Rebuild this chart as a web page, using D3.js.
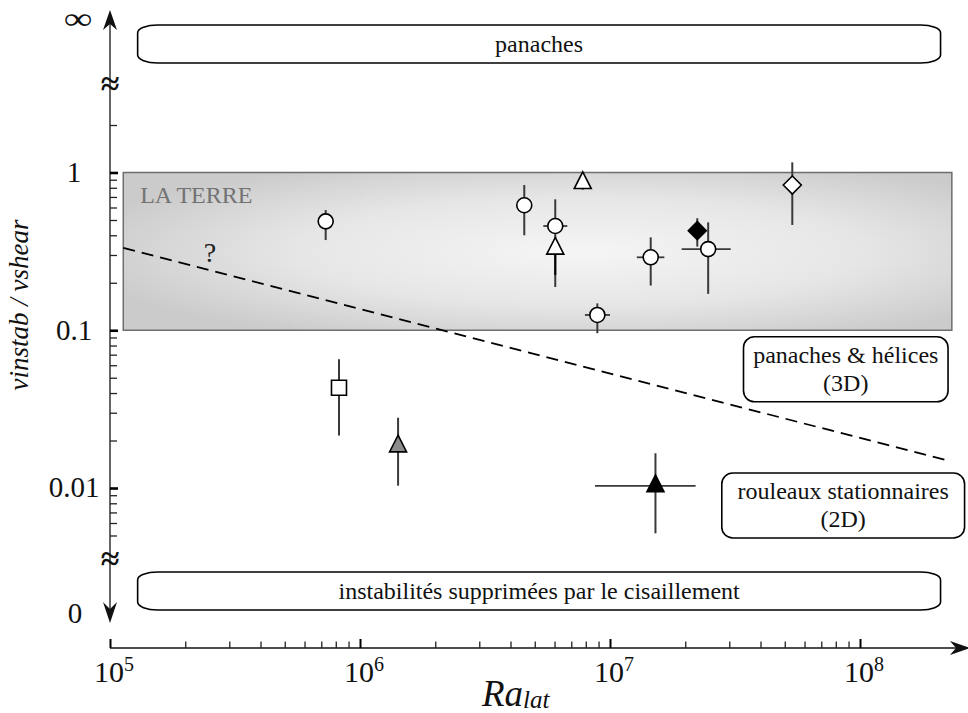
<!DOCTYPE html>
<html><head><meta charset="utf-8">
<script src="https://cdn.jsdelivr.net/npm/d3@7"></script>
<style>
body{margin:0;background:#fff}
svg{display:block}
svg text{font-family:"Liberation Serif","Times New Roman",serif}
</style>
</head><body>
<svg id="c" width="968" height="713" font-family="Liberation Serif, Times New Roman, serif"></svg>
<script>
// ---------------- data ----------------
const raMajorTicks = [1e5, 1e6, 1e7, 1e8];
const raMajorExp   = ["5", "6", "7", "8"];
const raMinorTicks = [2e5,3e5,4e5,5e5,6e5,7e5,8e5,9e5, 2e6,3e6,4e6,5e6,6e6,7e6,8e6,9e6, 2e7,3e7,4e7,5e7,6e7,7e7,8e7,9e7];
const vMajorTicks  = [1, 0.1, 0.01];
const vMajorLabels = ["1", "0.1", "0.01"];
const vMinorTicks  = [2, 0.9,0.8,0.7,0.6,0.5,0.4,0.3,0.2, 0.09,0.08,0.07,0.06,0.05,0.04,0.03,0.02, 0.009,0.008,0.007,0.006,0.005];
const breakLabels  = ["∞", "0"];

// experiments
const ptType  = ["circle","circle","circle","triOpen","triOpen","circle","circle","diaBlack","circle","diaOpen","square","triGray","triBlack"];
const ptRa    = [7.29e5, 4.54e6, 6.04e6, 6.04e6, 7.78e6, 8.9e6, 1.455e7, 2.234e7, 2.47e7, 5.36e7, 8.24e5, 1.42e6, 1.52e7];
const ptV     = [0.49,   0.62,   0.458,  0.33,   0.86,   0.125, 0.29,    0.428,   0.327,  0.833,  0.0432, 0.0184, 0.0103];
const errVLo  = [0.373,  0.40,   0.188,  0.224,  0.78,   0.0957,0.192,   0.339,   0.170,  0.465,  0.0215, 0.01035,0.00516];
const errVHi  = [0.578,  0.833,  0.676,  0.33,   0.86,   0.148, 0.388,   0.513,   0.483,  1.16,   0.0655, 0.0279, 0.0166];
const errRaLo = [null,   null,   5.41e6, null,   null,   7.94e6,1.28e7,  null,    1.935e7,null,   null,   null,   8.71e6];
const errRaHi = [null,   null,   6.75e6, null,   null,   1.0e7, 1.65e7,  null,    3.04e7, null,   null,   null,   2.2e7];

// regime boundary (dashed) and Earth band
const boundaryRa = [1.13e5, 2.25e8];
const boundaryV  = [0.333, 0.0149];
const earthRa = [1.13e5, 2.33e8];
const earthV  = [1, 0.1];
const earthLabel = "LA TERRE";
const earthLabelAt = [1.32e5, 0.64];
const questionAt = [2.51e5, 0.271];

// regime boxes
const boxLines = [["panaches"], ["instabilités supprimées par le cisaillement"], ["panaches & hélices","(3D)"], ["rouleaux stationnaires","(2D)"]];
const boxRa    = [[1.29e5, 2.1e8], [1.29e5, 2.1e8], [3.42e7, 2.25e8], [2.8e7, 2.62e8]];
const boxV     = [null, null, [0.091, 0.0352], [0.01245, 0.00482]];

const yTitle = "vinstab / vshear";
const xTitleMain = "Ra", xTitleSub = "lat";

// ---------------- layout ----------------
const FONT = "Liberation Serif, Times New Roman, serif";
const svg = d3.select("#c");
const x = d3.scaleLog().domain([1e5, 1e8]).range([110, 860]);
const y = d3.scaleLog().domain([1, 0.01]).range([172.5, 488]);
const xAxisY = 648;
const axisX = x(1e5);
const yInfBase = 29, yZeroRow = 614;
const topBand = [25, 63], botBand = [572, 610];
const approxRows = [82.5, 557.5];

const styles = {
  circle:   {fill:"#fff"},
  triOpen:  {fill:"#fff"},
  triGray:  {fill:"#8c8c8c"},
  triBlack: {fill:"#000"},
  diaBlack: {fill:"#000"},
  diaOpen:  {fill:"#fff"},
  square:   {fill:"#fff"}
};
function shapePath(t){
  if (t === "circle") return d3.symbol(d3.symbolCircle, Math.PI*7.5*7.5)();
  if (t.startsWith("tri")) return "M0,-11L8.5,5.7L-8.5,5.7Z";
  if (t.startsWith("dia")) return "M0,-9L9,0L0,9L-9,0Z";
  if (t === "square") return "M-7.5,-7.5H7.5V7.5H-7.5Z";
}
function txt(sel){ return sel.append("text").attr("font-family", FONT); }

// ---------------- defs ----------------
const defs = svg.append("defs");
const grad = defs.append("radialGradient").attr("id","earthGrad")
  .attr("cx","0.55").attr("cy","0.5").attr("r","0.62");
grad.append("stop").attr("offset","0").attr("stop-color","#f5f5f5");
grad.append("stop").attr("offset","0.55").attr("stop-color","#e6e6e6");
grad.append("stop").attr("offset","1").attr("stop-color","#cbcbcb");

// ---------------- Earth band ----------------
svg.append("rect")
  .attr("x", x(earthRa[0])).attr("y", y(earthV[0]))
  .attr("width", x(earthRa[1]) - x(earthRa[0]))
  .attr("height", y(earthV[1]) - y(earthV[0]))
  .attr("fill","url(#earthGrad)").attr("stroke","#6e6e6e").attr("stroke-width",1.5);
txt(svg).attr("x", x(earthLabelAt[0])).attr("y", y(earthLabelAt[1]))
  .attr("font-size",24).attr("fill","#737373").text(earthLabel);
txt(svg).attr("x", x(questionAt[0])).attr("y", y(questionAt[1]))
  .attr("text-anchor","middle").attr("font-size",28).attr("fill","#222").text("?");

// ---------------- boundary ----------------
svg.append("path")
  .attr("d", d3.line().x(d=>x(d[0])).y(d=>y(d[1]))(d3.zip(boundaryRa, boundaryV)))
  .attr("fill","none").attr("stroke","#000").attr("stroke-width",1.8)
  .attr("stroke-dasharray","12,7");

// ---------------- regime boxes ----------------
boxLines.forEach((lines, i) => {
  const x0 = x(boxRa[i][0]), x1 = x(boxRa[i][1]);
  let y0, y1, rx, ry;
  if (boxV[i] === null) {
    [y0, y1] = i === 0 ? topBand : botBand; rx = 20; ry = 8;
  } else {
    y0 = y(boxV[i][0]); y1 = y(boxV[i][1]); rx = 11; ry = 11;
  }
  svg.append("rect").attr("x", x0).attr("y", y0).attr("width", x1-x0).attr("height", y1-y0)
    .attr("rx", rx).attr("ry", ry).attr("fill","#fff").attr("stroke","#000").attr("stroke-width",1.6);
  const cx = (x0+x1)/2, cy = (y0+y1)/2, lh = 28;
  lines.forEach((s, k) => {
    txt(svg).attr("x", cx).attr("y", cy + (k - (lines.length-1)/2)*lh)
      .attr("dy","0.33em").attr("text-anchor","middle").attr("font-size",24).attr("fill","#111").text(s);
  });
});

// ---------------- axes ----------------
svg.append("line").attr("x1",axisX).attr("x2",axisX).attr("y1",24).attr("y2",612)
  .attr("stroke","#333").attr("stroke-width",1.5);
svg.append("path").attr("d",`M${axisX},10L${axisX+7},30L${axisX},24L${axisX-7},30Z`).attr("fill","#111");
svg.append("path").attr("d",`M${axisX},623L${axisX+7},602L${axisX},609L${axisX-7},602Z`).attr("fill","#111");

const yMinorG = svg.append("g").attr("transform",`translate(${axisX},0)`)
  .call(d3.axisRight(y).tickValues(vMinorTicks).tickSize(7).tickFormat(""));
yMinorG.select(".domain").remove();
yMinorG.selectAll("line").attr("stroke","#222").attr("stroke-width",1.3);
const yMajorG = svg.append("g").attr("transform",`translate(${axisX},0)`)
  .call(d3.axisRight(y).tickValues(vMajorTicks).tickSize(8).tickFormat(""));
yMajorG.select(".domain").remove();
yMajorG.selectAll("line").attr("stroke","#000").attr("stroke-width",2.6);

vMajorTicks.forEach((d,i) => {
  txt(svg).attr("x",74).attr("y",y(d)).attr("dy","0.32em").attr("text-anchor","middle")
    .attr("font-size",29).attr("fill","#111").text(vMajorLabels[i]);
});
txt(svg).attr("transform",`translate(78,${yInfBase}) scale(1.3,1)`).attr("x",0).attr("y",0)
  .attr("text-anchor","middle").attr("font-size",31).attr("fill","#111").text(breakLabels[0]);
txt(svg).attr("x",75).attr("y",yZeroRow).attr("dy","0.32em").attr("text-anchor","middle")
  .attr("font-size",29).attr("fill","#111").text(breakLabels[1]);
approxRows.forEach(r => {
  txt(svg).attr("x",axisX).attr("y",r).attr("dy","0.36em").attr("text-anchor","middle")
    .attr("font-size",34).attr("font-weight","bold").attr("fill","#111").text("≈");
});

// x axis
svg.append("line").attr("x1",axisX).attr("x2",958).attr("y1",xAxisY).attr("y2",xAxisY)
  .attr("stroke","#111").attr("stroke-width",1.6);
svg.append("path").attr("d",`M970,${xAxisY}L950,${xAxisY-7}L956,${xAxisY}L950,${xAxisY+7}Z`).attr("fill","#111");
const xMinorG = svg.append("g").attr("transform",`translate(0,${xAxisY})`)
  .call(d3.axisTop(x).tickValues(raMinorTicks).tickSize(6.5).tickFormat(""));
xMinorG.select(".domain").remove();
xMinorG.selectAll("line").attr("stroke","#222").attr("stroke-width",1.3);
const xMajorG = svg.append("g").attr("transform",`translate(0,${xAxisY})`)
  .call(d3.axisTop(x).tickValues(raMajorTicks).tickSize(9).tickFormat(""));
xMajorG.select(".domain").remove();
xMajorG.selectAll("line").attr("stroke","#000").attr("stroke-width",2);

raMajorTicks.forEach((t, i) => {
  const tx = txt(svg).attr("x", x(t) - 16).attr("y", 682)
    .attr("font-size",30).attr("fill","#111");
  tx.append("tspan").text("10");
  tx.append("tspan").attr("font-size",20).attr("dy",-11).text(raMajorExp[i]);
});

// titles
txt(svg).attr("transform","translate(28,305) rotate(-90)")
  .attr("text-anchor","middle").attr("font-size",27).attr("font-style","italic")
  .attr("fill","#111").text(yTitle);
const xt = txt(svg).attr("x",482).attr("y",706).attr("font-style","italic").attr("fill","#111");
xt.append("tspan").attr("font-size",37).text(xTitleMain);
xt.append("tspan").attr("font-size",25).attr("dy",2).text(xTitleSub);

// ---------------- data points ----------------
const pts = ptRa.map((r,i)=>({t:ptType[i], ra:r, v:ptV[i], vlo:errVLo[i], vhi:errVHi[i], rlo:errRaLo[i], rhi:errRaHi[i]}));
const eg = svg.append("g");
pts.forEach(p => {
  eg.append("line").attr("x1",x(p.ra)).attr("x2",x(p.ra)).attr("y1",y(p.vhi)).attr("y2",y(p.vlo))
    .attr("stroke", p.t==="triOpen" ? "#000" : "#3a3a3a").attr("stroke-width",2);
  if (p.rlo !== null) {
    eg.append("line").attr("x1",x(p.rlo)).attr("x2",x(p.rhi)).attr("y1",y(p.v)).attr("y2",y(p.v))
      .attr("stroke","#3a3a3a").attr("stroke-width",1.8);
  }
});
svg.append("g").selectAll("path").data(pts).enter().append("path")
  .attr("transform", d=>`translate(${x(d.ra)},${y(d.v)})`)
  .attr("d", d=>shapePath(d.t))
  .attr("fill", d=>styles[d.t].fill)
  .attr("stroke","#000").attr("stroke-width",1.6).attr("stroke-linejoin","miter");
</script>
</body></html>
